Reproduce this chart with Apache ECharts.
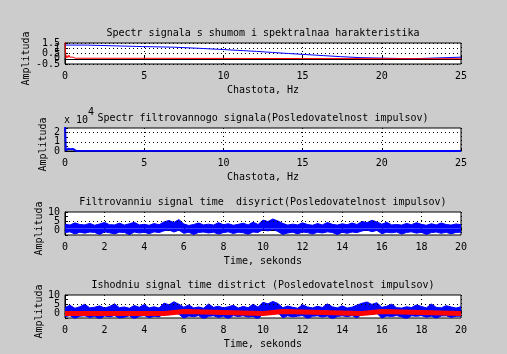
<!DOCTYPE html>
<html>
<head>
<meta charset="utf-8">
<script src="https://cdn.jsdelivr.net/npm/echarts@6/dist/echarts.min.js"></script>
<style>
  html, body { margin: 0; padding: 0; background: #cccccc; }
  #chart { width: 507px; height: 354px; }
</style>
</head>
<body>
<div id="chart"></div>
<script>
// plot 1: noisy spectrum (blue, stepped) and filter response (red)
const spec1Freq = [0, 1.4, 4.9, 6.9, 8.4, 9.7, 10.9, 12.1, 13.1, 14.1, 15.2, 16.3, 17.4, 18.7, 21.9, 25];
const spec1Amp  = [1.3, 1.16, 1.1, 1.0, 0.9, 0.8, 0.7, 0.6, 0.5, 0.4, 0.3, 0.2, 0.1, 0.0, 0.15, 0.15];
const resp1Freq = [0, 0.06, 0.12, 0.18, 0.25, 0.3, 0.36, 0.42, 0.5, 0.55, 0.65, 0.75, 25];
const resp1Amp  = [1.6, 0.05, 0.3, 0.1, 0.35, 0.15, 0.25, 0.1, 0.15, 0.02, 0.05, 0, 0];

// plot 2: filtered spectrum, units of 1e4
const spec2Freq = [0, 0.05, 0.1, 0.15, 0.22, 0.28, 0.35, 0.42, 0.5, 0.56, 0.62, 0.7, 0.8, 25];
const spec2Amp  = [3, 0.05, 0.2, 0.02, 0.25, 0.05, 0.2, 0.03, 0.22, 0.05, 0.18, 0.02, 0, 0];

// plots 3 and 4: upper/lower noise envelope every 0.25 s
const tStep = 0.25;
const filtHi = [
  3.4, 2.9, 4.1, 3.2,  3.0, 3.8, 2.8, 3.5,  4.3, 3.1, 3.0, 3.9,  2.9, 3.6, 4.4, 3.0,  3.3, 2.8, 3.7, 3.1,
  4.6, 5.4, 4.3, 5.9,  3.5, 2.7, 3.2, 4.0,  3.0, 3.4, 2.9, 4.2,  3.1, 3.6, 2.8, 3.3,  3.9, 3.0, 4.5, 3.2,
  5.6, 4.8, 6.2, 5.1,  3.8, 2.9, 3.4, 3.0,  4.1, 3.2, 2.8, 3.7,  3.0, 4.3, 3.3, 2.9,  3.6, 3.1, 4.0, 3.2,
  4.9, 4.2, 5.5, 4.6,  3.4, 4.4, 3.0, 3.2,  2.9, 3.8, 3.1, 4.2,  3.3, 2.8, 3.6, 3.0,  4.0, 3.2, 2.9, 3.5,
  3.1
];
const filtLo = [
  -1.2, -0.8, -2.0, -1.0,  -1.5, -0.9, -1.1, -2.2,  -0.8, -1.3, -1.9, -1.0,  -1.1, -2.3, -0.9, -1.4,  -1.0, -1.8, -0.8, -1.2,
  -0.2, 0.3, -0.9, 0.1,  -1.6, -1.0, -2.2, -1.1,  -0.9, -1.4, -1.0, -2.0,  -1.2, -0.8, -1.7, -1.0,  -1.3, -2.1, -0.9, -1.1,
  0.4, -0.3, 0.6, -0.6,  -2.2, -1.4, -1.0, -1.9,  -0.9, -1.2, -2.0, -1.0,  -1.4, -0.8, -1.1, -2.3,  -1.0, -1.6, -0.9, -1.2,
  -0.3, 0.2, -0.7, 0.0,  -1.8, -1.0, -1.3, -0.9,  -2.0, -1.1, -0.8, -1.5,  -1.0, -2.2, -1.2, -0.9,  -1.6, -1.0, -1.9, -1.1,
  -1.0
];
const srcHi = [
  3.2, 4.4, 2.8, 3.6,  5.0, 3.0, 3.4, 4.1,  2.9, 3.7, 5.2, 3.1,  3.5, 2.8, 4.3, 3.3,  4.8, 3.0, 3.6, 2.9,
  5.6, 4.7, 6.3, 5.0,  3.4, 4.6, 3.0, 3.5,  2.8, 5.1, 3.3, 3.9,  3.0, 3.6, 4.4, 2.9,  3.8, 3.1, 5.0, 3.4,
  6.0, 5.2, 6.5, 5.4,  3.1, 4.0, 3.3, 2.8,  4.7, 3.5, 3.0, 3.9,  3.2, 5.2, 3.6, 3.0,  4.1, 2.9, 3.4, 4.5,
  5.5, 6.2, 4.9, 5.8,  3.3, 3.9, 5.0, 3.1,  2.9, 3.6, 3.2, 4.6,  3.8, 3.0, 5.1, 3.3,  3.0, 4.2, 3.5, 2.9,
  3.6
];
const srcLo = [
  -1.8, -1.2, -2.8, -1.5,  -1.3, -2.2, -1.6, -3.2,  -1.4, -1.9, -1.2, -2.6,  -2.1, -1.3, -3.0, -1.6,  -1.2, -2.4, -1.5, -1.9,
  0.0, -0.8, 0.4, -0.4,  -2.7, -1.4, -1.8, -1.2,  -3.1, -1.6, -1.3, -2.2,  -1.5, -2.9, -1.2, -1.7,  -1.3, -2.0, -1.6, -3.3,
  0.2, -0.5, -0.1, 0.5,  -2.4, -1.3, -1.9, -1.5,  -1.2, -2.8, -1.6, -1.3,  -2.0, -1.4, -3.1, -1.7,  -1.3, -1.8, -1.2, -2.5,
  -0.3, 0.3, -0.6, 0.1,  -2.6, -1.4, -1.7, -1.2,  -1.9, -3.0, -1.3, -1.6,  -1.2, -2.1, -1.5, -2.7,  -1.4, -1.3, -2.2, -1.6,
  -1.5
];
// original pulse sequence (red)
const pulseTime = [0, 5, 6, 10, 11, 15, 16, 20];
const pulseAmp  = [0, 1, 0, 1, 0, 1, 0, 0];

const titles = [
  'Spectr signala s shumom i spektralnaa harakteristika',
  'Spectr filtrovannogo signala(Posledovatelnost impulsov)',
  'Filtrovanniu signal time  disyrict(Posledovatelnost impulsov)',
  'Ishodniu signal time district (Posledovatelnost impulsov)'
];

const FONT = 'DejaVu Sans Mono';
const pairs = (xs, ys) => xs.map((x, i) => [x, ys[i]]);
// hold each value until the next x
const steps = (xs, ys) => {
  const pts = [];
  xs.forEach((x, i) => {
    pts.push([x, ys[i]]);
    if (i + 1 < xs.length) pts.push([xs[i + 1], ys[i]]);
  });
  return pts;
};
const sampled = (ys) => ys.map((y, i) => [i * tStep, y]);

const dotted = { color: '#000', width: 1, type: [1, 3] };
const gridTops = [43, 128, 212, 295];
const gridHeights = [21, 23, 23, 23];
const txt = { fontFamily: FONT, fontSize: 10, color: '#000' };

const xAxisOf = (i, max, interval, name) => ({
  type: 'value', gridIndex: i, min: 0, max: max, interval: interval,
  name: name, nameLocation: 'middle', nameGap: 21, nameMoveOverlap: false,
  nameTextStyle: txt,
  axisLine: { show: true, lineStyle: { color: '#000' } },
  axisTick: { show: true, inside: true, length: 3, lineStyle: { color: '#000' } },
  axisLabel: Object.assign({ margin: 7, hideOverlap: false }, txt),
  splitLine: { show: true, lineStyle: dotted }
});
const yAxisOf = (i, min, max, interval, gap, labelExtra, splitShow) => ({
  type: 'value', gridIndex: i, min: min, max: max, interval: interval,
  name: 'Amplituda', nameLocation: 'middle', nameGap: gap, nameMoveOverlap: false,
  nameTextStyle: Object.assign({ padding: [0, 10, 0, 0] }, txt),
  axisLine: { show: true, lineStyle: { color: '#000' } },
  axisTick: { show: true, inside: true, length: 3, lineStyle: { color: '#000' } },
  axisLabel: Object.assign({ margin: 5, hideOverlap: false, showMinLabel: true }, txt, labelExtra || {}),
  splitLine: { show: splitShow !== false, lineStyle: dotted }
});
// extra label-only axis carrying the tick labels that sit between the others
const labelAxisOf = (i, min, max, interval, shown) => ({
  type: 'value', gridIndex: i, min: min, max: max, interval: interval, position: 'left',
  axisLine: { show: false }, axisTick: { show: false }, splitLine: { show: false },
  axisLabel: Object.assign({ margin: 5, hideOverlap: false, showMinLabel: true, showMaxLabel: true,
    formatter: (v) => (shown.indexOf(v) >= 0 ? String(v) : '') }, txt)
});

const pick = (list) => (v) => (list.indexOf(v) >= 0 ? String(v) : '');

const bandSeries = (axis, data) => ({
  type: 'line', xAxisIndex: axis, yAxisIndex: axis, showSymbol: false,
  lineStyle: { color: '#0000ff', width: 1 },
  areaStyle: { color: '#0000ff', opacity: 1, origin: 1 },
  data: data
});

const option = {
  backgroundColor: '#cccccc',
  animation: false,
  title: titles.map((t, i) => ({
    text: t, left: 263, top: gridTops[i] - 15, textAlign: 'center', padding: 0,
    textStyle: Object.assign({ fontWeight: 'normal' }, txt)
  })).concat([
    { text: 'x 10', left: 64, top: 115, padding: 0, textStyle: Object.assign({ fontWeight: 'normal' }, txt) },
    { text: '4', left: 88, top: 107, padding: 0, textStyle: Object.assign({ fontWeight: 'normal' }, txt) }
  ]),
  grid: gridTops.map((top, i) => ({
    left: 65, right: 46, top: top, height: gridHeights[i],
    show: true, backgroundColor: '#fff', borderColor: '#000', borderWidth: 1
  })),
  xAxis: [
    xAxisOf(0, 25, 5, 'Chastota, Hz'),
    xAxisOf(1, 25, 5, 'Chastota, Hz'),
    xAxisOf(2, 20, 2, 'Time, sekonds'),
    xAxisOf(3, 20, 2, 'Time, sekonds')
  ],
  yAxis: [
    yAxisOf(0, -0.5, 1.5, 0.5, 34, { formatter: pick([1.5, 0.5, -0.5]), showMaxLabel: true }),
    yAxisOf(1, 0, 2.5, 0.5, 17, { formatter: pick([2, 0]), showMaxLabel: true }, false),
    yAxisOf(2, -2.5, 10, 2.5, 21, { formatter: pick([10, 5, 0]), showMaxLabel: true }, false),
    yAxisOf(3, -2.5, 10, 2.5, 21, { formatter: pick([10, 5, 0]), showMaxLabel: true }, false),
    labelAxisOf(0, -0.5, 1.5, 0.5, [1, 0]),
    labelAxisOf(1, 0, 2.5, 0.5, [1])
  ],
  series: [
    { type: 'line', xAxisIndex: 0, yAxisIndex: 0, showSymbol: false,
      lineStyle: { color: '#0000ff', width: 1 }, data: steps(spec1Freq, spec1Amp) },
    { type: 'line', xAxisIndex: 0, yAxisIndex: 0, showSymbol: false,
      lineStyle: { color: '#ff0000', width: 1 }, data: pairs(resp1Freq, resp1Amp) },
    { type: 'line', xAxisIndex: 1, yAxisIndex: 1, showSymbol: false,
      lineStyle: { color: '#0000ff', width: 2 }, data: pairs(spec2Freq, spec2Amp),
      markLine: { silent: true, symbol: 'none', label: { show: false }, lineStyle: dotted, data: [{ yAxis: 1 }, { yAxis: 2 }] } },
    Object.assign(bandSeries(2, sampled(filtHi)), {
      markLine: { silent: true, symbol: 'none', label: { show: false }, lineStyle: dotted, data: [{ yAxis: 5 }] }
    }),
    bandSeries(2, sampled(filtLo)),
    Object.assign(bandSeries(3, sampled(srcHi)), {
      markLine: { silent: true, symbol: 'none', label: { show: false }, lineStyle: dotted, data: [{ yAxis: 5 }] }
    }),
    bandSeries(3, sampled(srcLo)),
    { type: 'line', xAxisIndex: 3, yAxisIndex: 3, showSymbol: false,
      lineStyle: { color: '#ff0000', width: 5 }, data: steps(pulseTime, pulseAmp) }
  ]
};

const chart = echarts.init(document.getElementById('chart'));
chart.setOption(option);
</script>
</body>
</html>
